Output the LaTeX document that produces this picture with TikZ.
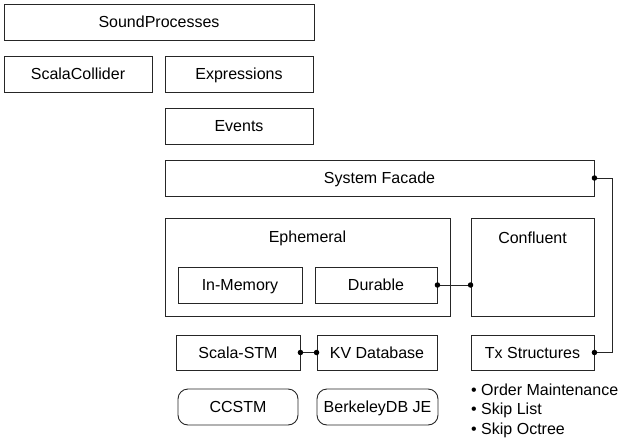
\documentclass[tikz,border=0pt]{standalone}
\usepackage{fontspec}
\setmainfont{Liberation Sans}
\begin{document}
\begin{tikzpicture}[x=1pt,y=-1pt,
  box/.style={draw=black!85,line width=0.9pt,minimum height=36pt,inner sep=0pt,text height=11.6pt,text depth=0pt,font=\fontsize{16}{19}\selectfont},
  rbox/.style={box,rounded corners=10pt},
  lbl/.style={inner sep=0pt,font=\fontsize{16}{19}\selectfont},
  conn/.style={draw=black!85,line width=0.9pt},
  dot/.style={circle,fill=black,inner sep=0pt,minimum size=5.5pt}]
\useasboundingbox (0,0) rectangle (626,444);
\node[box,minimum width=310pt] (sp) at (159,22) {SoundProcesses};
\node[box,minimum width=148pt] (sc) at (78,74) {ScalaCollider};
\node[box,minimum width=148pt] (ex) at (239,74) {Expressions};
\node[box,minimum width=148pt] (ev) at (239,126) {Events};
\node[box,minimum width=429pt] (sf) at (379.5,178) {System Facade};
\node[box,minimum width=285pt,minimum height=98pt] (eph) at (307.5,267) {};
\node[lbl] (ephl) at (307.5,238) {Ephemeral};
\node[box,minimum width=123pt,minimum height=98pt] (con) at (532.5,267) {};
\node[lbl] (conl) at (532.5,238) {Confluent};
\node[box,minimum width=124pt] (im) at (240,285) {In-Memory};
\node[box,minimum width=122pt] (du) at (376,285) {Durable};
\node[box,minimum width=124pt,minimum height=35pt] (stm) at (238,352.5) {Scala-STM};
\node[box,minimum width=120pt,minimum height=35pt] (kv) at (377,352.5) {KV Database};
\node[box,minimum width=123pt,minimum height=35pt] (tx) at (532.5,352.5) {Tx Structures};
\node[rbox,minimum width=120pt] (cc) at (238,407) {CCSTM};
\node[rbox,minimum width=121pt] (bdb) at (377.5,407) {BerkeleyDB JE};
\node[lbl,anchor=west] (b1) at (471,390) {\textbullet\ Order Maintenance};
\node[lbl,anchor=west] (b2) at (471,410) {\textbullet\ Skip List};
\node[lbl,anchor=west] (b3) at (471,430) {\textbullet\ Skip Octree};
% connectors
\draw[conn] (du.east) -- (con.west |- du.east);
\node[dot] at (du.east) {};
\node[dot] at (con.west |- du.east) {};
\draw[conn] (stm.east) -- (kv.west);
\node[dot] at (stm.east) {};
\node[dot] at (kv.west) {};
\coordinate (bend) at (612,178);
\draw[conn] (sf.east) -- (bend) |- (tx.east);
\node[dot] at (sf.east) {};
\node[dot] at (tx.east) {};
\end{tikzpicture}
\end{document}
